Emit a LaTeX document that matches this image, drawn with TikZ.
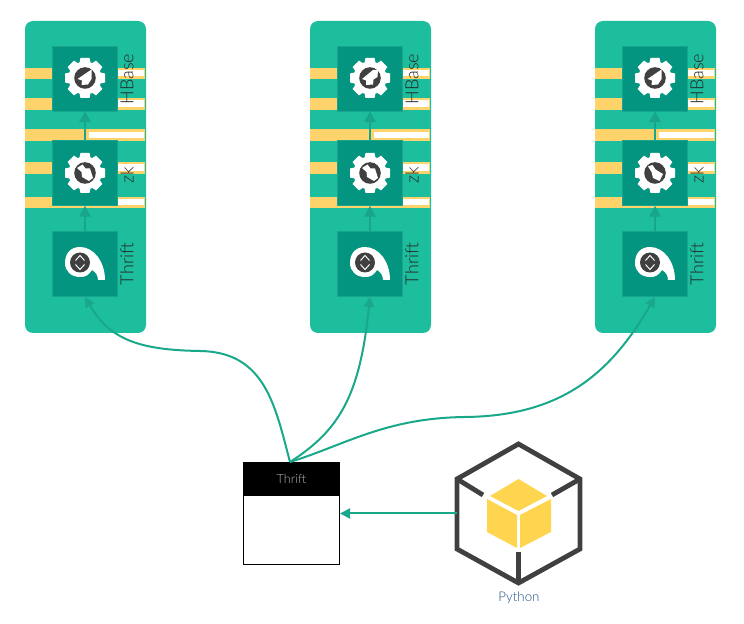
\documentclass[tikz,border=0pt]{standalone}
\usepackage{fontspec}
\setmainfont{Lato Light}
\usetikzlibrary{arrows.meta}
\definecolor{panelc}{HTML}{1CBE9E}
\definecolor{boxc}{HTML}{049581}
\definecolor{boxb}{HTML}{18A48E}
\definecolor{stripec}{HTML}{FFD36C}
\definecolor{linkc}{HTML}{1AA88A}
\definecolor{innerc}{HTML}{17A58D}
\definecolor{darkc}{HTML}{404040}
\definecolor{labelc}{HTML}{262626}
\definecolor{cubey}{HTML}{FFD54F}
\definecolor{pyc}{HTML}{1F4F80}
\tikzset{
  x=0.75pt,y=-0.75pt,
  panelbox/.style={fill=panelc,rounded corners=6pt},
  stripey/.style={fill=stripec},
  stripew/.style={fill=white},
  svcbox/.style={draw=boxb,fill=boxc,line width=0.6pt,minimum width=48.75pt,minimum height=48.75pt,inner sep=0pt},
  svclabel/.style={rotate=90,font=\fontsize{13.5pt}{15pt}\selectfont,text=labelc,inner sep=0pt},
  innerarrow/.style={draw=innerc,line width=1.5pt,-{Triangle[length=8pt,width=8.5pt]}},
  link/.style={draw=linkc,line width=1.5pt,-{Triangle[length=7.5pt,width=7.5pt]}},
  hexline/.style={draw=darkc,line width=3.6pt,line join=miter},
  gearwhite/.style={fill=white,draw=none},
}
\newcommand{\arrowA}{(6.5,-8.5) -- (-7.5,1) -- (-3,2.5) -- (-3.5,7) -- (3,6.5) -- (6.5,1) -- cycle}
\newcommand{\arrowB}{(-8,-5) -- (-2.5,-8.5) -- (0.5,-4.5) -- (5,-4.5) -- (8,5) -- (4,8) -- (-3,4) -- (-3.5,-1) -- cycle}
\newcommand{\arrowC}{(-8,1) -- (3,-8) -- (8,-8) -- (7.5,-1) -- (3.5,1.5) -- (3,6.5) -- (-4,7) -- (-4,2.5) -- cycle}
\newcommand{\arrowD}{(-7,-6.5) -- (-2.5,-8) -- (0.5,-3.5) -- (8,1) -- (4.5,8) -- (-2,5) -- (-3.5,-1) -- cycle}
\begin{document}
\begin{tikzpicture}
\useasboundingbox (0,0) rectangle (744,624);
\foreach \i/\o/\ga/\gb in {1/0/\arrowA/\arrowB,2/285/\arrowC/\arrowB,3/570/\arrowA/\arrowD}{
  \begin{scope}[shift={(\o,0)}]
    \fill[panelbox] (25,21) rectangle (146,333);
    % stripes
    \foreach \t/\b in {68/79,98/110,162/174,197/208}{
      \fill[stripey] (25,\t) rectangle (145,\b);
      \fill[stripew] (117,\t+2.5) rectangle (144,\b-2.5);
    }
    \fill[stripey] (25,129) rectangle (145,141);
    \fill[stripew] (89,132) rectangle (144,138);
    % service boxes
    \node[svcbox] (hb\i) at (85,78.5) {};
    \node[svcbox] (zk\i) at (85,173) {};
    \node[svcbox] (th\i) at (85,264) {};
    \draw[innerarrow] (zk\i.north) -- (hb\i.south);
    \draw[innerarrow] (th\i.north) -- (zk\i.south);
    % gears
    \foreach \cy/\shp in {78/\ga,173/\gb}{
      \begin{scope}[shift={(85,\cy)}]
        \fill[gearwhite] (0,0) circle (16.5);
        \foreach \k in {0,45,...,315}{
          \fill[gearwhite,rotate=\k] (-4.5,-20) -- (4.5,-20) -- (6,-13) -- (-6,-13) -- cycle;
        }
        \fill[darkc] (0,0) circle (10.8);
        \fill[white] \shp;
      \end{scope}
    }
    % thrift swirl
    \fill[white] (65,263) .. controls (65,253) and (71,247) .. (80,247)
       .. controls (94,247) and (105,262) .. (105,280)
       -- (98,280) .. controls (98,276) and (96,272) .. (92,270)
       .. controls (88,276) and (85,277) .. (80,277)
       .. controls (71,277) and (65,271) .. (65,263) -- cycle;
    \fill[darkc] (80,262.5) circle (10);
    \draw[white,line width=0.7pt] (75.5,260.5) -- (80,255.5) -- (84.5,260.5);
    \draw[white,line width=0.7pt] (75.5,264.5) -- (80,269.5) -- (84.5,264.5);
    % labels
    \node[svclabel] at (127,79) {HBase};
    \node[svclabel] at (127,175) {zk};
    \node[svclabel] at (127,264) {Thrift};
  \end{scope}
}
% client box
\node[draw=black,line width=0.75pt,fill=white,minimum width=72pt,minimum height=77pt,inner sep=0pt] (client) at (291.5,513.5) {};
\node[fill=black,minimum width=72pt,minimum height=25.5pt,inner sep=0pt,text=lightgray!80!gray,font=\fontsize{9.5pt}{11pt}\selectfont] (head) at (291.5,479) {Thrift};
% python cube
\coordinate (pyleft) at (457,513.5);
\draw[hexline] (518.5,444) -- (580,479) -- (580,549) -- (518.5,583) -- (457,549) -- (457,479) -- cycle;
\draw[hexline] (457,479) -- (483,495);
\draw[hexline] (580,479) -- (552,495);
\draw[hexline] (518.5,583) -- (518.5,552);
\fill[cubey] (518.5,479) -- (547,496) -- (518.5,511) -- (490,496) -- cycle;
\fill[cubey] (487,499) -- (517,515) -- (517,548) -- (487,532) -- cycle;
\fill[cubey] (551,499) -- (520,515) -- (520,548) -- (551,532) -- cycle;
\node[text=pyc,font=\fontsize{10pt}{12pt}\selectfont,inner sep=0pt] (pylabel) at (519,598) {Python};
% connectors
\coordinate (src) at (290,462);
\draw[link] (pyleft) -- (client.east);
\draw[link] (src) .. controls (275,405) and (265,352) .. (200,351) .. controls (140,350) and (110,340) .. (th1.south);
\draw[link] (src) .. controls (340,430) and (360,395) .. (th2.south);
\draw[link] (src) .. controls (345,445) and (385,418) .. (465,417) .. controls (560,416) and (610,375) .. (th3.south);
\end{tikzpicture}
\end{document}
